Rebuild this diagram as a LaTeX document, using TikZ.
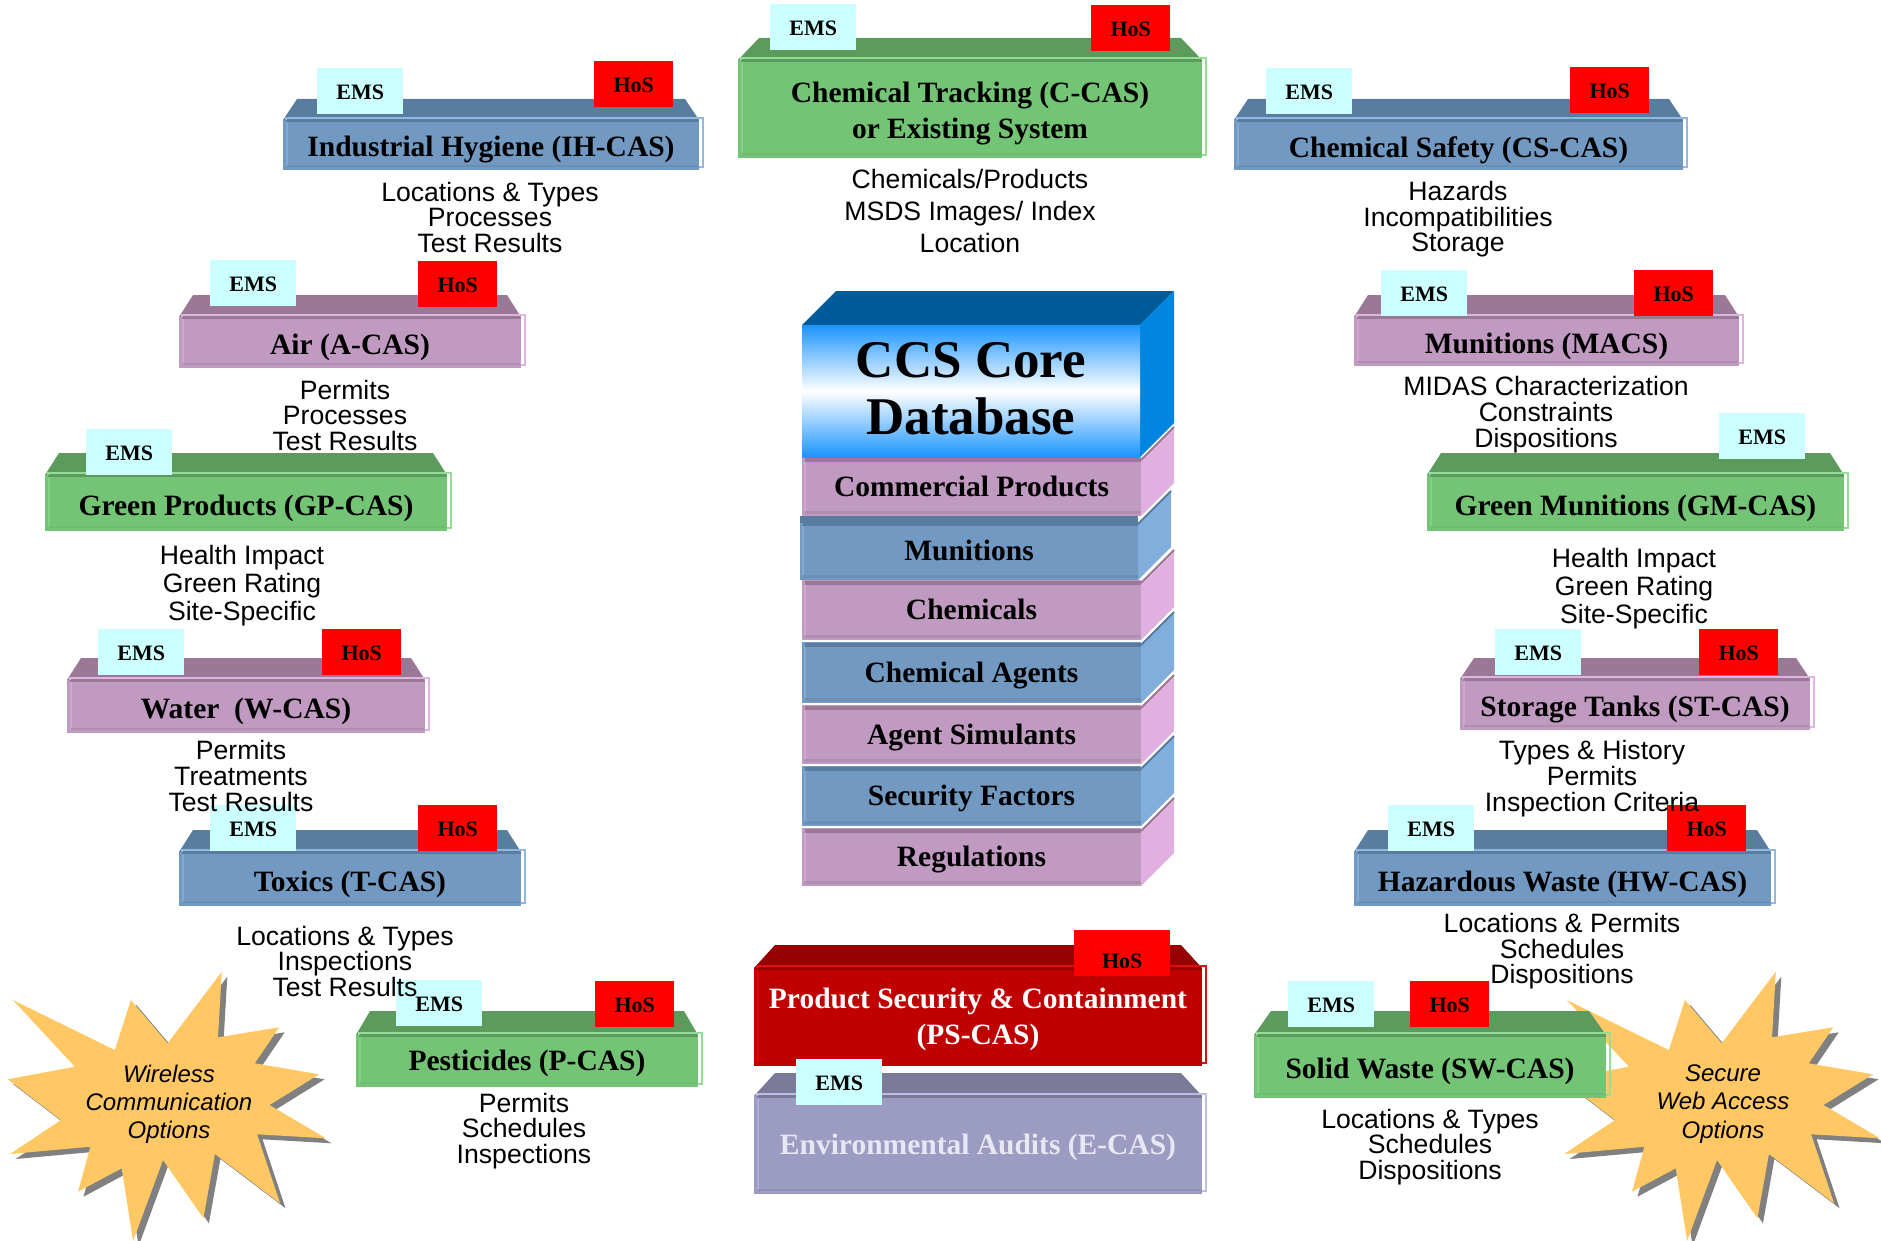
\documentclass[tikz,border=0pt]{standalone}
\usepackage{fontspec}
\setmainfont{Liberation Serif}
\setsansfont{Liberation Sans}
\usetikzlibrary{calc}
% Palettes: front, top, edge, side, text
\definecolor{gfront}{HTML}{74C476}
\definecolor{gtop}{HTML}{5C9A5E}
\definecolor{gedge}{HTML}{93DD95}
\definecolor{gband}{HTML}{6FBC71}
\colorlet{gtext}{black}
\definecolor{bfront}{HTML}{7299C2}
\definecolor{btop}{HTML}{5A7C9F}
\definecolor{bedge}{HTML}{8FB8E2}
\definecolor{bband}{HTML}{6A8EB4}
\definecolor{bside}{HTML}{82AEDC}
\colorlet{btext}{black}
\definecolor{pfront}{HTML}{C09AC0}
\definecolor{ptop}{HTML}{9A7896}
\definecolor{pedge}{HTML}{E0B4E0}
\definecolor{pband}{HTML}{B08EB0}
\definecolor{pside}{HTML}{E0B0E0}
\colorlet{ptext}{black}
\definecolor{rfront}{HTML}{C00000}
\definecolor{rtop}{HTML}{960000}
\definecolor{redge}{HTML}{E01010}
\definecolor{rband}{HTML}{B80000}
\colorlet{rtext}{white}
\definecolor{lfront}{HTML}{9C9CC2}
\definecolor{ltop}{HTML}{7B7B99}
\definecolor{ledge}{HTML}{BDBDE6}
\definecolor{lband}{HTML}{9090B4}
\definecolor{ltext}{HTML}{E8E8F4}
\definecolor{emscolor}{HTML}{CCFFFF}
\definecolor{starcolor}{HTML}{FFC864}
\definecolor{coretop}{HTML}{005C99}
\definecolor{coreside}{HTML}{0085E0}
\definecolor{coreblue}{HTML}{1B95FF}
\tikzset{
%Define style for the tags on the boxes
tagbox/.style={anchor=north west, inner sep=0pt, minimum height=46pt, text height=16pt, text depth=0pt, font=\fontsize{22}{22}\selectfont\bfseries},
ems tag/.style={tagbox, fill=emscolor, minimum width=86pt},
hos tag/.style={tagbox, fill=red, minimum width=79pt},
%Define style for the texts
box title/.style={inner sep=0pt, align=center, font=\fontsize{29.5}{36}\selectfont\bfseries},
stack title/.style={box title, text height=20pt, text depth=6pt},
info list/.style={inner sep=0pt, align=center},
star label/.style={inner sep=0pt, align=center, font=\fontsize{24}{28.2}\selectfont\sffamily\itshape},
}
% name, x0, y0, x1, y1, y of top, inset of top, palette, title
\newcommand{\casbox}[9]{
\fill[#8top] (#2,#3) -- (#2+#7,#6) -- (#4-#7,#6) -- (#4,#3) -- cycle;
\draw[#8edge,line width=2pt] (#2+3,#3-2) rectangle (#4+4,#5-3);
\fill[#8front] (#2,#3) rectangle (#4,#5);
\draw[#8edge!50!#8front,line width=2pt] (#2+4,#3+2) -- (#2+4,#5-4);
\draw[#8band,line width=1.5pt] (#2+4,#5-4) -- (#4-1,#5-4);
\draw[#8top,line width=2pt] (#2+3,#3+1) -- (#4,#3+1);
\node (#1) [box title, text=#8text] at ({(#2+#4)/2},{(#3+#5)/2+5}) {#9};
}
% name, x0, y0, x1, y1, palette, title
\newcommand{\stackitem}[7]{
\fill[#6side] (#4,#3+3) -- (#4+33,#3-30) -- (#4+33,#5-33) -- (#4,#5) -- cycle;
\draw[#6top,line width=2pt] (#4,#3+3) -- (#4+33,#3-30);
\fill[#6front] (#2,#3) rectangle (#4,#5);
\draw[#6edge!50!#6front,line width=2.5pt] (#2+3,#3+5) -- (#2+3,#5-5);
\draw[#6top,line width=3.5pt] (#2+3,#3+3) -- (#4,#3+3);
\draw[#6band,line width=3pt] (#2+3,#5-4) -- (#4,#5-4);
\node (#1) [stack title] at ({(#2+#4)/2},{(#3+#5)/2+2.5}) {#7};
}
% name, x, y, line spacing, lines
\newcommand{\infolist}[5]{
\node (#1) [info list, font=\fontsize{26.6}{#4}\selectfont\sffamily] at (#2,#3) {#5};
}
% x shift, name, label
\newcommand{\burst}[3]{
\begin{scope}[xshift=#1pt]
\fill[gray] (5.5,5) ++(221.8,971.7) -- ++(-3.8,65.6) -- ++(61.2,-10) -- ++(-24.4,36) -- ++(64.3,11) -- ++(-49.6,30.7) -- ++(56.5,33.3) -- ++(-68.9,-4) -- ++(23,69) -- ++(-65.2,-49.3) -- ++(-11.5,64.3) -- ++(-40.4,-58.3) -- ++(-29.9,81) -- ++(-11.4,-72.7) -- ++(-43.7,23.4) -- ++(12.4,-45) -- ++(-80.3,7.3) -- ++(50.9,-34) -- ++(-53.2,-40.7) -- ++(67,-12.6) -- ++(-61.9,-66.7) -- ++(101.9,50) -- ++(16.1,-50) -- ++(36.7,43.3) -- cycle;
\fill[starcolor] (221.8,971.7) -- ++(-3.8,65.6) -- ++(61.2,-10) -- ++(-24.4,36) -- ++(64.3,11) -- ++(-49.6,30.7) -- ++(56.5,33.3) -- ++(-68.9,-4) -- ++(23,69) -- ++(-65.2,-49.3) -- ++(-11.5,64.3) -- ++(-40.4,-58.3) -- ++(-29.9,81) -- ++(-11.4,-72.7) -- ++(-43.7,23.4) -- ++(12.4,-45) -- ++(-80.3,7.3) -- ++(50.9,-34) -- ++(-53.2,-40.7) -- ++(67,-12.6) -- ++(-61.9,-66.7) -- ++(101.9,50) -- ++(16.1,-50) -- ++(36.7,43.3) -- cycle;
\node (#2) [star label] at (169,1104) {#3};
\end{scope}
}
\begin{document}
\begin{tikzpicture}[x=1pt,y=-1pt]
\useasboundingbox (0,0) rectangle (1881,1241);
% Draw the two bursts
\burst{0}{wireless}{Wireless\\Communication\\Options}
\burst{1554}{secure}{Secure\\Web Access\\Options}
% Draw the core database
\stackitem{regulations}{802}{828}{1141}{886}{p}{Regulations}
\stackitem{security}{802}{766}{1141}{826}{b}{Security Factors}
\stackitem{simulants}{802}{705}{1141}{764}{p}{Agent Simulants}
\stackitem{agents}{802}{642}{1141}{703}{b}{Chemical Agents}
\stackitem{chemicals}{802}{580}{1141}{640}{p}{Chemicals}
\stackitem{munitions}{800}{521}{1138}{580}{b}{Munitions}
\fill[btop] (800,516) rectangle (1138,523);
\stackitem{commercial}{802}{457}{1141}{516}{p}{Commercial Products}
\fill[coretop] (802,325) -- (836,291) -- (1174,291) -- (1140,325) -- cycle;
\fill[coreside] (1140,325) -- (1174,291) -- (1174,423) -- (1140,457) -- cycle;
\shade[top color=coreblue, bottom color=coreblue, middle color=white] (802,325) rectangle (1140,457);
\node (core) [inner sep=0pt, align=center, font=\fontsize{53}{57.5}\selectfont\bfseries] at (971,388.6) {CCS Core\\Database};
% Draw the boxes on the left
\casbox{hygiene}{283}{120}{699}{170}{99}{14}{b}{Industrial Hygiene (IH-CAS)}
\casbox{air}{179}{317}{521}{368}{295}{14}{p}{Air (A-CAS)}
\casbox{greenproducts}{45}{475}{447}{531}{453}{14}{g}{Green Products (GP-CAS)}
\casbox{water}{67}{680}{425}{733}{658}{14}{p}{Water\ \ (W-CAS)}
\casbox{toxics}{179}{852}{521}{906}{830}{14}{b}{Toxics (T-CAS)}
% Draw the boxes in the middle
\casbox{tracking}{738}{60}{1202}{158}{38}{21}{g}{Chemical Tracking (C-CAS)\\or Existing System}
\begin{scope}[box title/.append style={yshift=2.5pt}]
\casbox{pesticides}{356}{1035}{698}{1087}{1011}{14}{g}{Pesticides (P-CAS)}
\casbox{containment}{754}{968}{1202}{1066}{945}{21}{r}{Product Security \& Containment\\(PS-CAS)}
\casbox{audits}{754}{1096}{1202}{1194}{1073}{21}{l}{Environmental Audits (E-CAS)}
\end{scope}
% Draw the boxes on the right
\casbox{safety}{1234}{120}{1683}{170}{99}{14}{b}{Chemical Safety (CS-CAS)}
\casbox{macs}{1354}{317}{1739}{366}{295}{14}{p}{Munitions (MACS)}
\casbox{greenmunitions}{1427}{475}{1844}{531}{453}{14}{g}{Green Munitions (GM-CAS)}
\casbox{tanks}{1460}{679}{1810}{730}{658}{14}{p}{Storage Tanks (ST-CAS)}
\casbox{hazardous}{1354}{852}{1771}{906}{830}{14}{b}{Hazardous Waste (HW-CAS)}
\casbox{solid}{1254}{1035}{1606}{1098}{1011}{17}{g}{Solid Waste (SW-CAS)}
% Draw the tags
\node (ems hygiene) [ems tag] at (317,68) {EMS};
\node (hos hygiene) [hos tag] at (594,61) {HoS};
\node (ems air) [ems tag] at (210,260) {EMS};
\node (hos air) [hos tag] at (418,261) {HoS};
\node (ems greenproducts) [ems tag] at (86,429) {EMS};
\node (ems water) [ems tag] at (98,629) {EMS};
\node (hos water) [hos tag] at (322,629) {HoS};
\node (ems toxics) [ems tag] at (210,805) {EMS};
\node (hos toxics) [hos tag] at (418,805) {HoS};
\node (ems pesticides) [ems tag] at (396,980) {EMS};
\node (hos pesticides) [hos tag] at (595,981) {HoS};
\node (ems tracking) [ems tag] at (770,4) {EMS};
\node (hos tracking) [hos tag] at (1091,5) {HoS};
\node (hos containment) [hos tag, minimum width=96pt, text height=30pt] at (1074,930) {HoS};
\node (ems audits) [ems tag] at (796,1059) {EMS};
\node (ems safety) [ems tag] at (1266,68) {EMS};
\node (hos safety) [hos tag] at (1570,67) {HoS};
\node (ems macs) [ems tag] at (1381,270) {EMS};
\node (hos macs) [hos tag] at (1634,270) {HoS};
\node (ems greenmunitions) [ems tag] at (1719,413) {EMS};
\node (ems tanks) [ems tag] at (1495,629) {EMS};
\node (hos tanks) [hos tag] at (1699,629) {HoS};
\node (ems hazardous) [ems tag] at (1388,805) {EMS};
\node (hos hazardous) [hos tag] at (1667,805) {HoS};
\node (ems solid) [ems tag] at (1288,981) {EMS};
\node (hos solid) [hos tag] at (1410,981) {HoS};
% Draw the lists under the boxes
\infolist{hygiene list}{490}{217}{25.5}{Locations \& Types\\Processes\\Test Results}
\infolist{air list}{345}{415}{25.5}{Permits\\Processes\\Test Results}
\infolist{greenproducts list}{242}{586}{28}{Health Impact\\Green Rating\\Site-Specific}
\infolist{water list}{241}{776}{26}{Permits\\Treatments\\Test Results}
\infolist{toxics list}{345}{961}{25.5}{Locations \& Types\\Inspections\\Test Results}
\infolist{pesticides list}{524}{1131}{25.5}{Permits\\Schedules\\Inspections}
\infolist{tracking list}{970}{211}{32}{Chemicals/Products\\MSDS Images/ Index\\Location}
\infolist{safety list}{1458}{219.5}{25.5}{Hazards\\Incompatibilities\\Storage}
\infolist{macs list}{1546}{414.5}{26}{MIDAS Characterization\\Constraints\\Dispositions}
\infolist{greenmunitions list}{1634}{588.5}{28}{Health Impact\\Green Rating\\Site-Specific}
\infolist{tanks list}{1592}{778.5}{26}{Types \& History\\Permits\\Inspection Criteria}
\infolist{hazardous list}{1562}{951.5}{25.5}{Locations \& Permits\\Schedules\\Dispositions}
\infolist{solid list}{1430}{1147}{25.5}{Locations \& Types\\Schedules\\Dispositions}
\end{tikzpicture}
\end{document}
